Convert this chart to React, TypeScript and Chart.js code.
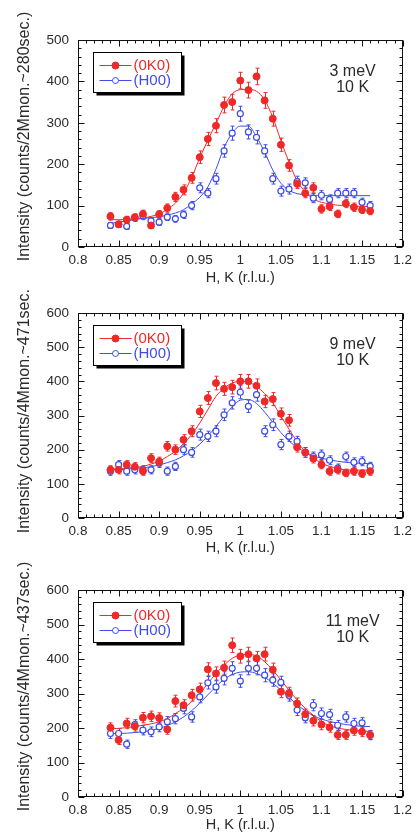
import React, { useEffect, useRef } from "react";
import { Chart, registerables } from "chart.js";

Chart.register(...registerables);

// ---------- data ----------
const HK = [0.84, 0.85, 0.86, 0.87, 0.88, 0.89, 0.9, 0.91, 0.92, 0.93, 0.94, 0.95, 0.96, 0.97, 0.98, 0.99, 1.0,
  1.01, 1.02, 1.03, 1.04, 1.05, 1.06, 1.07, 1.08, 1.09, 1.1, 1.11, 1.12, 1.13, 1.14, 1.15, 1.16];

const X_TICKS = [0.8, 0.85, 0.9, 0.95, 1, 1.05, 1.1, 1.15, 1.2];
const Y_TICKS_500 = [0, 100, 200, 300, 400, 500];
const Y_TICKS_600 = [0, 100, 200, 300, 400, 500, 600];

const SERIES_LABELS = ["(0K0)", "(H00)"];
const X_TITLE = "H, K (r.l.u.)";
const ENERGIES = ["3 meV", "9 meV", "11 meV"];
const TEMPERATURE = "10 K";
const Y_TITLES = [
  "Intensity (counts/2Mmon.~280sec.)",
  "Intensity (counts/4Mmon.~471sec.)",
  "Intensity (counts/4Mmon.~437sec.)",
];

// 3 meV
const I3_0K0 = [74, 55, 66, 72, 80, 52, 79, 94, 121, 138, 167, 217, 261, 293, 343, 350, 402, 379, 412, 354, 310, 247, 197, 153, 130, 143, 92, 98, 80, 105, 96, 90, 87];
const I3_H00 = [52, 55, 50, 70, 75, 63, 60, 72, 68, 78, 100, 143, 130, 165, 232, 275, 322, 278, 265, 232, 165, 135, 140, 158, 155, 118, 125, 115, 130, 130, 130, 108, 100];
const E3_0K0 = [9, 7, 8, 8, 9, 7, 9, 10, 11, 12, 13, 15, 16, 17, 19, 19, 20, 19, 20, 19, 18, 16, 14, 12, 11, 12, 10, 10, 9, 10, 10, 9, 9];
const E3_H00 = [7, 7, 7, 8, 9, 8, 8, 8, 8, 9, 10, 12, 11, 13, 15, 17, 18, 17, 16, 15, 13, 12, 12, 13, 12, 11, 11, 11, 11, 11, 11, 10, 10];
const FIT3_0K0 = [66, 66, 67, 68, 70, 74, 80, 91, 106, 130, 168, 215, 258, 298, 340, 370, 380, 381, 376, 355, 313, 257, 205, 160, 133, 116, 108, 104, 101, 100, 99, 98, 98];
const FIT3_H00 = [57, 60, 63, 66, 69, 71, 73, 77, 82, 90, 104, 120, 145, 188, 240, 275, 292, 292, 266, 229, 186, 154, 137, 129, 126, 125, 124, 124, 124, 124, 124, 124, 124];

// 9 meV
const I9_0K0 = [141, 141, 156, 150, 137, 175, 165, 210, 200, 229, 254, 312, 351, 395, 378, 383, 400, 400, 387, 341, 348, 305, 286, 207, 192, 174, 156, 137, 141, 132, 137, 130, 137];
const I9_H00 = [137, 156, 137, 141, 141, 141, 161, 137, 151, 200, 192, 244, 239, 254, 302, 337, 368, 327, 361, 254, 273, 215, 239, 224, 192, 180, 185, 169, 146, 180, 163, 166, 151];
const E9_0K0 = [12, 12, 12, 12, 12, 13, 13, 14, 14, 15, 16, 18, 19, 20, 19, 20, 20, 20, 20, 18, 19, 17, 17, 14, 14, 13, 12, 12, 12, 11, 12, 11, 12];
const E9_H00 = [12, 12, 12, 12, 12, 12, 13, 12, 12, 14, 14, 16, 15, 16, 17, 18, 19, 18, 19, 16, 17, 15, 15, 15, 14, 13, 14, 13, 12, 13, 13, 13, 12];
const FIT9_0K0 = [143, 144, 146, 148, 151, 158, 166, 180, 195, 218, 244, 278, 317, 356, 380, 395, 400, 397, 385, 364, 337, 298, 260, 224, 195, 176, 161, 151, 145, 141, 140, 140, 140];
const FIT9_H00 = [141, 142, 143, 145, 147, 150, 155, 162, 170, 182, 197, 216, 240, 268, 298, 325, 345, 347, 335, 310, 280, 250, 225, 207, 193, 182, 175, 170, 166, 163, 161, 160, 159];

// 11 meV
const I11_0K0 = [201, 165, 213, 205, 230, 234, 229, 196, 278, 266, 295, 312, 370, 358, 375, 440, 408, 414, 402, 414, 369, 305, 301, 271, 240, 221, 210, 202, 180, 180, 193, 189, 180];
const I11_H00 = [184, 184, 153, 210, 194, 189, 203, 218, 227, 257, 232, 290, 331, 319, 344, 373, 336, 373, 373, 353, 339, 332, 295, 252, 230, 266, 242, 239, 208, 232, 213, 215, 179];
const E11_0K0 = [14, 13, 15, 14, 15, 15, 15, 14, 17, 16, 17, 18, 19, 19, 19, 21, 20, 20, 20, 20, 19, 17, 17, 16, 15, 15, 15, 14, 13, 13, 14, 14, 13];
const E11_H00 = [14, 14, 12, 14, 14, 14, 14, 15, 15, 16, 15, 17, 18, 18, 19, 19, 18, 19, 19, 19, 18, 18, 17, 16, 15, 16, 16, 15, 14, 15, 15, 15, 13];
const FIT11_0K0 = [198, 199, 201, 204, 208, 212, 218, 227, 242, 257, 276, 300, 329, 358, 382, 402, 411, 413, 409, 392, 368, 339, 310, 281, 257, 237, 218, 207, 200, 196, 193, 191, 190];
const FIT11_H00 = [184, 184, 185, 187, 189, 193, 199, 207, 218, 232, 250, 272, 296, 320, 341, 355, 362, 363, 358, 347, 330, 310, 289, 268, 250, 236, 226, 219, 214, 210, 207, 205, 204];

// ---------- style ----------
const FONT = "'Liberation Sans', Arial, Helvetica, sans-serif";
const RED = "rgb(240,40,40)";
const BLUE = "rgb(62,76,232)";
const TEXT = "#2a2a2a";
const X_MINOR = 0.01;
const Y_MINOR = 20;

type PanelSpec = {
  top: number;
  height: number;
  padTop: number;
  xAxisH: number;
  yMax: number;
  yTicks: number[];
  yTitle: string;
  energy: string;
  red: number[];
  redErr: number[];
  redFit: number[];
  blue: number[];
  blueErr: number[];
  blueFit: number[];
};

const PANELS: PanelSpec[] = [
  { top: 0, height: 290, padTop: 40, xAxisH: 43, yMax: 500, yTicks: Y_TICKS_500, yTitle: Y_TITLES[0], energy: ENERGIES[0],
    red: I3_0K0, redErr: E3_0K0, redFit: FIT3_0K0, blue: I3_H00, blueErr: E3_H00, blueFit: FIT3_H00 },
  { top: 290, height: 270, padTop: 23, xAxisH: 42, yMax: 600, yTicks: Y_TICKS_600, yTitle: Y_TITLES[1], energy: ENERGIES[1],
    red: I9_0K0, redErr: E9_0K0, redFit: FIT9_0K0, blue: I9_H00, blueErr: E9_H00, blueFit: FIT9_H00 },
  { top: 560, height: 277, padTop: 30, xAxisH: 40, yMax: 600, yTicks: Y_TICKS_600, yTitle: Y_TITLES[2], energy: ENERGIES[2],
    red: I11_0K0, redErr: E11_0K0, redFit: FIT11_0K0, blue: I11_H00, blueErr: E11_H00, blueFit: FIT11_H00 },
];

const errorBarPlugin = {
  id: "errorBars",
  beforeDatasetsDraw(chart: any) {
    const ctx = chart.ctx;
    const yScale = chart.scales.y;
    chart.data.datasets.forEach((ds: any, i: number) => {
      if (!ds.errors) return;
      const meta = chart.getDatasetMeta(i);
      ctx.save();
      ctx.strokeStyle = ds.borderColor;
      ctx.lineWidth = 1;
      meta.data.forEach((pt: any, j: number) => {
        const v = ds.data[j].y;
        const e = ds.errors[j];
        const x = Math.round(pt.x) + 0.5;
        const y1 = yScale.getPixelForValue(v + e);
        const y0 = yScale.getPixelForValue(v - e);
        ctx.beginPath();
        ctx.moveTo(x, y1);
        ctx.lineTo(x, y0);
        ctx.moveTo(x - 2, y1);
        ctx.lineTo(x + 2, y1);
        ctx.moveTo(x - 2, y0);
        ctx.lineTo(x + 2, y0);
        ctx.stroke();
      });
      ctx.restore();
    });
  },
};

const framePlugin = {
  id: "frame",
  afterDraw(chart: any) {
    const { ctx, chartArea } = chart;
    const { left, right, top, bottom } = chartArea;
    const xs = chart.scales.x;
    const ys = chart.scales.y;
    ctx.save();
    ctx.strokeStyle = "#111";
    ctx.lineWidth = 1;
    const L = Math.round(left) + 0.5;
    const R = Math.round(right) - 0.5;
    const T = Math.round(top) + 0.5;
    const B = Math.round(bottom) - 0.5;
    ctx.strokeRect(L, T, R - L, B - T);
    ctx.beginPath();
    const nx = Math.round((xs.max - xs.min) / X_MINOR);
    for (let k = 0; k <= nx; k++) {
      const v = xs.min + k * X_MINOR;
      const major = X_TICKS.some((t) => Math.abs(t - v) < 1e-6);
      const len = major ? 6 : 3;
      const px = Math.round(xs.getPixelForValue(v)) + 0.5;
      ctx.moveTo(px, B);
      ctx.lineTo(px, B - len);
      ctx.moveTo(px, T);
      ctx.lineTo(px, T + len);
    }
    const ny = Math.round((ys.max - ys.min) / Y_MINOR);
    for (let k = 0; k <= ny; k++) {
      const v = ys.min + k * Y_MINOR;
      const major = (ys.options._yTicks as number[]).some((t: number) => Math.abs(t - v) < 1e-6);
      const len = major ? 6 : 3;
      const py = Math.round(ys.getPixelForValue(v)) + 0.5;
      ctx.moveTo(L, py);
      ctx.lineTo(L + len, py);
      ctx.moveTo(R, py);
      ctx.lineTo(R - len, py);
    }
    ctx.stroke();
    ctx.restore();
  },
};

const legendBoxPlugin = {
  id: "legendBox",
  afterDraw(chart: any) {
    const { ctx, chartArea } = chart;
    const bx = Math.round(chartArea.left) + 15.5;
    const by = Math.round(chartArea.top) + 12.5;
    const bw = 88;
    const bh = 40;
    ctx.save();
    ctx.fillStyle = "#000";
    ctx.fillRect(bx + 3, by + 3, bw, bh);
    ctx.fillStyle = "#fff";
    ctx.fillRect(bx, by, bw, bh);
    ctx.strokeStyle = "#000";
    ctx.lineWidth = 1;
    ctx.strokeRect(bx, by, bw, bh);
    const items = chart.data.datasets.filter((d: any) => d.inLegend);
    items.forEach((ds: any, i: number) => {
      const y = by + 13 + i * 15;
      ctx.strokeStyle = ds.borderColor;
      ctx.lineWidth = 1;
      ctx.beginPath();
      ctx.moveTo(bx + 6, y);
      ctx.lineTo(bx + 38, y);
      ctx.stroke();
      ctx.beginPath();
      ctx.arc(bx + 22, y, ds.pointRadius, 0, Math.PI * 2);
      ctx.fillStyle = ds.pointBackgroundColor;
      ctx.fill();
      ctx.stroke();
      ctx.fillStyle = ds.borderColor;
      ctx.font = `15px ${FONT}`;
      ctx.textAlign = "left";
      ctx.textBaseline = "middle";
      ctx.fillText(ds.label, bx + 40, y + 0.5);
    });
    ctx.restore();
  },
};

const annotationPlugin = {
  id: "annot",
  afterDraw(chart: any) {
    const { ctx, chartArea } = chart;
    const lines: string[] = chart.options._annot;
    const yTitle: string = chart.options._yTitle;
    ctx.save();
    ctx.fillStyle = TEXT;
    ctx.font = `16px ${FONT}`;
    ctx.textAlign = "center";
    ctx.textBaseline = "middle";
    const cx = chartArea.right - 50;
    ctx.fillText(lines[0], cx, chartArea.top + 32);
    ctx.fillText(lines[1], cx, chartArea.top + 48);
    // rotated y title
    ctx.translate(25, (chartArea.top + chartArea.bottom) / 2 - 7);
    ctx.rotate(-Math.PI / 2);
    ctx.font = `16px ${FONT}`;
    ctx.fillText(yTitle, 0, 0);
    ctx.restore();
  },
};

function fmtX(v: number) {
  return String(Number(v.toFixed(2)));
}

function Panel({ spec }: { spec: PanelSpec }) {
  const ref = useRef<HTMLCanvasElement>(null);
  useEffect(() => {
    const pts = (vals: number[]) => HK.map((x, i) => ({ x, y: vals[i] }));
    const chart = new Chart(ref.current as HTMLCanvasElement, {
      type: "scatter",
      data: {
        datasets: [
          {
            label: SERIES_LABELS[0],
            data: pts(spec.red),
            errors: spec.redErr,
            inLegend: true,
            borderColor: RED,
            backgroundColor: RED,
            pointBackgroundColor: RED,
            pointRadius: 3.5,
            pointBorderWidth: 1,
            showLine: false,
          } as any,
          {
            label: SERIES_LABELS[1],
            data: pts(spec.blue),
            errors: spec.blueErr,
            inLegend: true,
            borderColor: BLUE,
            backgroundColor: "#fff",
            pointBackgroundColor: "#fff",
            pointRadius: 3,
            pointBorderWidth: 1.2,
            showLine: false,
          } as any,
          {
            label: "fit " + SERIES_LABELS[0],
            data: pts(spec.redFit),
            borderColor: RED,
            borderWidth: 1,
            pointRadius: 0,
            showLine: true,
            cubicInterpolationMode: "monotone",
          } as any,
          {
            label: "fit " + SERIES_LABELS[1],
            data: pts(spec.blueFit),
            borderColor: BLUE,
            borderWidth: 1,
            pointRadius: 0,
            showLine: true,
            cubicInterpolationMode: "monotone",
          } as any,
        ],
      },
      options: {
        responsive: false,
        animation: false,
        events: [],
        _annot: [spec.energy, TEMPERATURE],
        _yTitle: spec.yTitle,
        layout: { padding: { top: spec.padTop, right: 14, left: 0, bottom: 0 } },
        plugins: { legend: { display: false }, tooltip: { enabled: false } },
        scales: {
          x: {
            type: "linear",
            min: 0.8,
            max: 1.2,
            afterBuildTicks: (s: any) => {
              s.ticks = X_TICKS.map((v) => ({ value: v }));
            },
            afterFit: (s: any) => {
              s.height = spec.xAxisH;
            },
            grid: { display: false, drawTicks: false },
            border: { display: false },
            ticks: {
              padding: 5,
              autoSkip: false,
              maxRotation: 0,
              color: TEXT,
              font: { family: FONT, size: 13.5 },
              callback: (v: any) => fmtX(Number(v)),
            },
            title: {
              display: true,
              text: X_TITLE,
              color: TEXT,
              font: { family: FONT, size: 14.5 },
              padding: { top: 0, bottom: 3.3 },
            },
          },
          y: {
            type: "linear",
            min: 0,
            max: spec.yMax,
            _yTicks: spec.yTicks,
            afterBuildTicks: (s: any) => {
              s.ticks = spec.yTicks.map((v) => ({ value: v }));
            },
            afterFit: (s: any) => {
              s.width = 78;
            },
            grid: { display: false, drawTicks: false },
            border: { display: false },
            ticks: {
              padding: 9,
              autoSkip: false,
              color: TEXT,
              font: { family: FONT, size: 13.5 },
            },
          } as any,
        },
      } as any,
      plugins: [errorBarPlugin, framePlugin, legendBoxPlugin, annotationPlugin],
    });
    return () => chart.destroy();
  }, [spec]);
  return (
    <canvas
      ref={ref}
      width={417}
      height={spec.height}
      style={{ position: "absolute", left: 0, top: spec.top, width: 417, height: spec.height }}
    />
  );
}

export default function App() {
  return (
    <div
      style={{
        position: "fixed",
        left: 0,
        top: 0,
        width: 417,
        height: 832,
        overflow: "hidden",
        background: "#fff",
      }}
    >
      {PANELS.map((p, i) => (
        <Panel key={i} spec={p} />
      ))}
    </div>
  );
}
